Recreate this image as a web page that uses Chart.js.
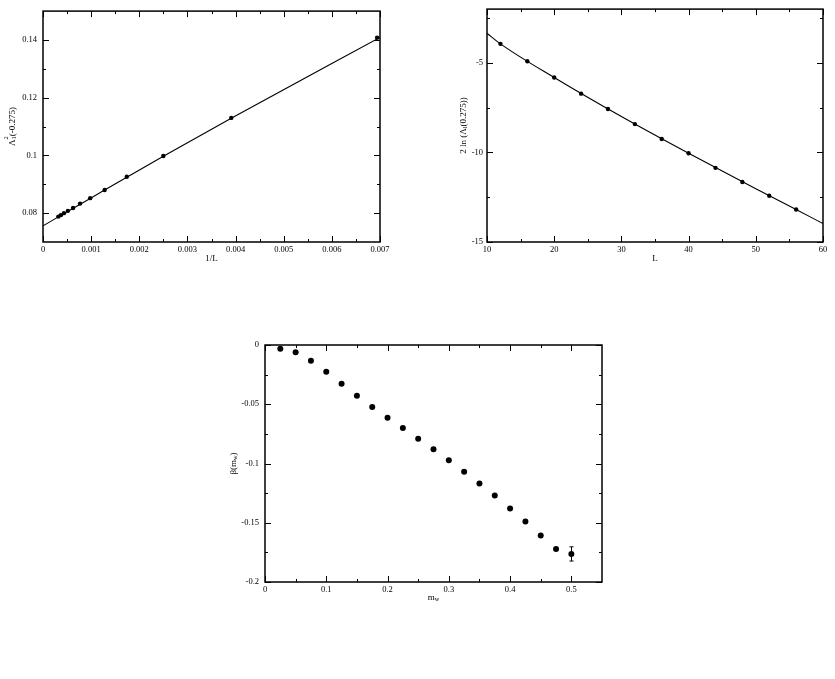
<!DOCTYPE html>
<html>
<head>
  <script src="https://cdn.jsdelivr.net/npm/chart.js@4.4.0/dist/chart.umd.min.js"></script>
  <style>
    body { margin: 0; background: #fff; width: 835px; height: 679px; position: relative; overflow: hidden; }
    canvas { position: absolute; }
  </style>
</head>
<body>

  <canvas id="lambdaCanvas" width="400" height="270" style="left:0px;top:0px"></canvas>
  <canvas id="lnCanvas" width="415" height="270" style="left:420px;top:0px"></canvas>
  <canvas id="betaCanvas" width="420" height="300" style="left:210px;top:330px"></canvas>

  <script>
    // top left: lambda^2 vs 1/L
    const c1X = [0.00694, 0.00391, 0.0025, 0.00174, 0.00128, 0.00098, 0.00077, 0.000625, 0.000517, 0.000434, 0.00037, 0.000319];
    const c1Y = [0.1408, 0.1130, 0.0998, 0.0926, 0.0880, 0.0852, 0.0833, 0.0818, 0.0808, 0.0800, 0.0793, 0.0788];
    const c1FitX = [0, 0.000319, 0.00098, 0.0025, 0.00391, 0.007];
    const c1FitY = [0.0756, 0.0787, 0.0851, 0.0997, 0.1129, 0.1409];
    const c1XTicks = [0, 0.001, 0.002, 0.003, 0.004, 0.005, 0.006, 0.007];
    const c1YTicks = [0.08, 0.1, 0.12, 0.14];

    // top right: 2 ln(lambda) vs L
    const c2X = [12, 16, 20, 24, 28, 32, 36, 40, 44, 48, 52, 56];
    const c2Y = [-3.94, -4.91, -5.82, -6.72, -7.58, -8.42, -9.25, -10.05, -10.86, -11.65, -12.42, -13.19];
    const c2FitX = [10, 12, 20, 30, 40, 50, 56, 60];
    const c2FitY = [-3.35, -3.94, -5.82, -8.0, -10.05, -12.03, -13.19, -13.97];
    const c2XTicks = [10, 20, 30, 40, 50, 60];
    const c2YTicks = [-15, -10, -5];

    // bottom: beta(m_w)
    const c3X = [0.025, 0.05, 0.075, 0.1, 0.125, 0.15, 0.175, 0.2, 0.225, 0.25, 0.275, 0.3, 0.325, 0.35, 0.375, 0.4, 0.425, 0.45, 0.475, 0.5];
    const c3Y = [-0.0031, -0.0062, -0.0132, -0.0225, -0.0327, -0.0428, -0.0524, -0.0614, -0.0701, -0.0792, -0.0879, -0.0972, -0.1070, -0.1169, -0.1270, -0.1380, -0.1490, -0.1608, -0.1721, -0.1763];
    const c3Err = [0, 0, 0, 0, 0, 0, 0, 0, 0, 0, 0, 0, 0, 0, 0, 0, 0, 0, 0, 0.006];
    const c3XTicks = [0, 0.1, 0.2, 0.3, 0.4, 0.5];
    const c3YTicks = [-0.2, -0.15, -0.1, -0.05, 0];

    const FONT = "'Liberation Serif', 'DejaVu Serif', serif";

    function pts(xs, ys) {
      return xs.map((x, i) => ({ x: x, y: ys[i] }));
    }

    function fmt(v) {
      return String(parseFloat(v.toFixed(6)));
    }

    function minorsOf(majors, min, max) {
      let step = majors[1] - majors[0];
      let out = [];
      majors.forEach(m => {
        [m - step / 2, m + step / 2].forEach(v => {
          if (v > min + 1e-9 && v < max - 1e-9 && !out.some(o => Math.abs(o - v) < 1e-9)) out.push(v);
        });
      });
      return out;
    }

    // draws a title made of pieces: plain text, subscript, superscript, or stacked sub+sup
    function drawRich(ctx, parts, size) {
      const small = size * 0.7;
      let widths = parts.map(p => {
        ctx.font = (p.s ? small : size) + 'px ' + FONT;
        let w = ctx.measureText(p.t).width;
        if (p.sup) { ctx.font = small + 'px ' + FONT; w = Math.max(w, ctx.measureText(p.sup).width); }
        return w;
      });
      let total = widths.reduce((a, b) => a + b, 0);
      let x = -total / 2;
      ctx.textBaseline = 'alphabetic';
      ctx.textAlign = 'left';
      parts.forEach((p, i) => {
        if (p.s) {
          ctx.font = small + 'px ' + FONT;
          ctx.fillText(p.t, x, p.s === 'sub' ? size * 0.3 + 1 : -size * 0.4);
          if (p.sup) ctx.fillText(p.sup, x, -size * 0.45);
        } else {
          ctx.font = size + 'px ' + FONT;
          ctx.fillText(p.t, x, size * 0.35);
        }
        x += widths[i];
      });
    }

    // xmgrace style frame: box with inward ticks on all sides, plus axis titles
    const gracePlugin = {
      id: 'grace',
      afterDraw(chart, args, opts) {
        const ctx = chart.ctx;
        const a = chart.chartArea;
        const xs = chart.scales.x, ys = chart.scales.y;
        ctx.save();
        ctx.strokeStyle = '#000';
        ctx.fillStyle = '#000';
        ctx.lineWidth = 1.5;
        ctx.strokeRect(a.left, a.top, a.right - a.left, a.bottom - a.top);

        ctx.lineWidth = 1;
        const major = 6, minor = 3;
        let xMaj = opts.xTicks, yMaj = opts.yTicks;
        let xMin = minorsOf(xMaj, xs.min, xs.max), yMin = minorsOf(yMaj, ys.min, ys.max);
        ctx.beginPath();
        [[xMaj, major], [xMin, minor]].forEach(([vals, len]) => {
          vals.forEach(v => {
            let px = Math.round(xs.getPixelForValue(v)) + 0.5;
            ctx.moveTo(px, a.bottom); ctx.lineTo(px, a.bottom - len);
            ctx.moveTo(px, a.top); ctx.lineTo(px, a.top + len);
          });
        });
        [[yMaj, major], [yMin, minor]].forEach(([vals, len]) => {
          vals.forEach(v => {
            let py = Math.round(ys.getPixelForValue(v)) + 0.5;
            ctx.moveTo(a.left, py); ctx.lineTo(a.left + len, py);
            ctx.moveTo(a.right, py); ctx.lineTo(a.right - len, py);
          });
        });
        ctx.stroke();

        // axis titles
        ctx.save();
        ctx.translate((a.left + a.right) / 2, a.bottom + opts.xTitleGap);
        drawRich(ctx, opts.xTitle, 9);
        ctx.restore();

        ctx.save();
        ctx.translate(opts.yTitleX, (a.top + a.bottom) / 2);
        ctx.rotate(-Math.PI / 2);
        drawRich(ctx, opts.yTitle, 9);
        ctx.restore();

        ctx.restore();
      }
    };

    const errPlugin = {
      id: 'errBars',
      afterDatasetsDraw(chart, args, opts) {
        if (!opts.err) return;
        const ctx = chart.ctx;
        const xs = chart.scales.x, ys = chart.scales.y;
        ctx.save();
        ctx.strokeStyle = '#000';
        ctx.lineWidth = 1;
        ctx.beginPath();
        opts.err.forEach((e, i) => {
          if (!e) return;
          let px = Math.round(xs.getPixelForValue(opts.x[i])) + 0.5;
          let top = ys.getPixelForValue(opts.y[i] + e);
          let bot = ys.getPixelForValue(opts.y[i] - e);
          ctx.moveTo(px, top); ctx.lineTo(px, bot);
          ctx.moveTo(px - 2, top); ctx.lineTo(px + 2, top);
          ctx.moveTo(px - 2, bot); ctx.lineTo(px + 2, bot);
        });
        ctx.stroke();
        ctx.restore();
      }
    };

    function makeChart(id, cfg) {
      let datasets = [];
      if (cfg.fitX) {
        datasets.push({
          data: pts(cfg.fitX, cfg.fitY),
          showLine: true,
          borderColor: '#000',
          borderWidth: 1.1,
          pointRadius: 0,
          cubicInterpolationMode: 'monotone'
        });
      }
      datasets.push({
        data: pts(cfg.x, cfg.y),
        showLine: false,
        backgroundColor: '#000',
        borderColor: '#000',
        pointRadius: cfg.radius,
        pointBorderWidth: 0
      });

      const tickFont = { family: FONT, size: 8.5 };

      return new Chart(document.getElementById(id).getContext('2d'), {
        type: 'scatter',
        data: { datasets: datasets },
        plugins: [gracePlugin, errPlugin],
        options: {
          responsive: false,
          animation: false,
          devicePixelRatio: 1,
          layout: { padding: cfg.padding },
          plugins: {
            legend: { display: false },
            tooltip: { enabled: false },
            grace: {
              xTicks: cfg.xTicks, yTicks: cfg.yTicks,
              xTitle: cfg.xTitle, yTitle: cfg.yTitle,
              xTitleGap: cfg.xTitleGap, yTitleX: cfg.yTitleX
            },
            errBars: { err: cfg.err, x: cfg.x, y: cfg.y }
          },
          scales: {
            x: {
              type: 'linear',
              min: cfg.xRange[0], max: cfg.xRange[1],
              grid: { display: false, drawTicks: false },
              border: { display: false },
              afterBuildTicks: s => { s.ticks = cfg.xTicks.map(v => ({ value: v })); },
              afterFit: s => { s.height = cfg.xAxisH; },
              ticks: { color: '#000', font: tickFont, padding: 3, maxRotation: 0, autoSkip: false, callback: fmt }
            },
            y: {
              type: 'linear',
              min: cfg.yRange[0], max: cfg.yRange[1],
              grid: { display: false, drawTicks: false },
              border: { display: false },
              afterBuildTicks: s => { s.ticks = cfg.yTicks.map(v => ({ value: v })); },
              afterFit: s => { s.width = cfg.yAxisW; },
              ticks: { color: '#000', font: tickFont, padding: cfg.yPad, autoSkip: false, callback: fmt }
            }
          }
        }
      });
    }

    makeChart('lambdaCanvas', {
      x: c1X, y: c1Y, fitX: c1FitX, fitY: c1FitY, radius: 2.2,
      xRange: [0, 0.007], yRange: [0.07, 0.15],
      xTicks: c1XTicks, yTicks: c1YTicks,
      padding: { left: 0, top: 6, right: 20, bottom: 0 },
      xAxisH: 28, yAxisW: 43, yPad: 6,
      xTitle: [{ t: '1/L' }], xTitleGap: 16,
      yTitle: [{ t: 'Λ' }, { t: '1', s: 'sub', sup: '2' }, { t: '(-0.275)' }], yTitleX: 12
    });

    makeChart('lnCanvas', {
      x: c2X, y: c2Y, fitX: c2FitX, fitY: c2FitY, radius: 2.2,
      xRange: [10, 60], yRange: [-15, -2],
      xTicks: c2XTicks, yTicks: c2YTicks,
      padding: { left: 0, top: 7, right: 12, bottom: 0 },
      xAxisH: 28, yAxisW: 67, yPad: 4,
      xTitle: [{ t: 'L' }], xTitleGap: 16,
      yTitle: [{ t: '2 ln (Λ' }, { t: 'l', s: 'sub' }, { t: '(0.275))' }], yTitleX: 43
    });

    makeChart('betaCanvas', {
      x: c3X, y: c3Y, err: c3Err, radius: 3,
      xRange: [0, 0.55], yRange: [-0.2, 0],
      xTicks: c3XTicks, yTicks: c3YTicks,
      padding: { left: 0, top: 15, right: 28, bottom: 0 },
      xAxisH: 48, yAxisW: 55, yPad: 6,
      xTitle: [{ t: 'm' }, { t: 'w', s: 'sub' }], xTitleGap: 15,
      yTitle: [{ t: 'β(m' }, { t: 'w', s: 'sub' }, { t: ')' }], yTitleX: 23
    });
  </script>

</body>
</html>
